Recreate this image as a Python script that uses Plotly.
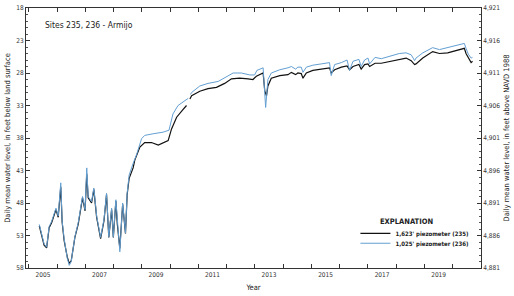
import plotly.graph_objects as go

# ---- data (decimal year, depth in feet below land surface) ----
yr_235 = [2005.37, 2005.46, 2005.54, 2005.63, 2005.72, 2005.81, 2005.96, 2006.04, 2006.13, 2006.18,
          2006.25, 2006.36, 2006.43, 2006.50, 2006.63, 2006.75, 2006.90, 2006.99, 2007.05, 2007.10,
          2007.22, 2007.30, 2007.40, 2007.54, 2007.66, 2007.75, 2007.83, 2007.93, 2007.99, 2008.08,
          2008.13, 2008.22, 2008.32, 2008.42, 2008.48, 2008.55, 2008.69, 2008.75, 2008.93, 2009.10,
          2009.34, 2009.58, 2009.75, 2009.93, 2010.05, 2010.23, 2010.46, 2010.58, None, 2010.70,
          2010.76, 2011.05, 2011.34, 2011.64, 2011.93, 2012.17, 2012.46, 2012.76, 2012.93, 2013.05,
          2013.29, 2013.35, 2013.41, 2013.46, 2013.58, 2013.88, 2014.17, 2014.29, 2014.44, 2014.52,
          2014.64, 2014.70, 2014.82, 2015.05, 2015.35, 2015.64, 2015.70, 2015.82, 2016.06, 2016.26,
          2016.35, 2016.47, 2016.68, 2016.76, 2016.88, 2017.00, 2017.06, 2017.18, 2017.25, 2017.47,
          2017.82, 2018.11, 2018.35, 2018.53, 2018.65, 2018.70, 2018.94, 2019.29, 2019.53, 2019.82,
          2020.12, 2020.31, 2020.41, 2020.47, 2020.55, 2020.65, 2020.70]
depth_235 = [51.5, 53.3, 54.5, 54.9, 51.8, 51.0, 49.0, 50.2, 45.5, 51.0,
             53.8, 56.3, 57.3, 56.9, 53.3, 51.2, 47.2, 49.2, 43.5, 47.2,
             48.0, 45.9, 50.2, 53.5, 50.7, 46.7, 53.3, 49.0, 53.3, 47.7,
             51.2, 55.0, 48.2, 52.7, 46.7, 44.2, 42.6, 41.4, 39.4, 38.7,
             38.7, 39.1, 38.7, 38.4, 36.6, 34.8, 33.6, 33.0, None, 32.0,
             31.5, 30.8, 30.4, 30.2, 29.6, 28.9, 28.8, 28.9, 29.0, 28.5,
             28.0, 30.8, 31.5, 30.0, 28.8, 28.4, 28.25, 27.9, 28.25, 28.0,
             28.1, 28.8, 28.0, 27.6, 27.4, 27.2, 28.0, 27.5, 27.1, 26.9,
             27.5, 27.0, 26.7, 27.4, 26.7, 26.6, 27.0, 26.6, 26.5, 26.5,
             26.2, 25.9, 25.7, 26.1, 26.7, 26.6, 25.7, 24.7, 25.0, 24.9,
             24.6, 24.3, 24.2, 25.0, 25.7, 26.4, 26.2]

yr_236 = [2005.37, 2005.46, 2005.54, 2005.63, 2005.72, 2005.81, 2005.96, 2006.04, 2006.13, 2006.18,
          2006.25, 2006.36, 2006.43, 2006.50, 2006.63, 2006.75, 2006.90, 2006.99, 2007.05, 2007.10,
          2007.22, 2007.30, 2007.40, 2007.54, 2007.66, 2007.75, 2007.83, 2007.93, 2007.99, 2008.08,
          2008.13, 2008.22, 2008.32, 2008.42, 2008.48, 2008.55, 2008.69, 2008.81, 2008.99, 2009.10,
          2009.40, 2009.75, 2009.96, 2010.10, 2010.28, 2010.52, 2010.64, None, 2010.72, 2010.76,
          2011.05, 2011.34, 2011.70, 2012.00, 2012.23, 2012.52, 2012.82, 2012.99, 2013.07, 2013.29,
          2013.38, 2013.46, 2013.58, 2013.64, 2013.88, 2014.17, 2014.29, 2014.44, 2014.52, 2014.64,
          2014.70, 2014.82, 2015.05, 2015.35, 2015.64, 2015.70, 2015.82, 2016.06, 2016.26, 2016.35,
          2016.47, 2016.68, 2016.76, 2016.88, 2017.00, 2017.06, 2017.18, 2017.25, 2017.47, 2017.82,
          2018.11, 2018.35, 2018.53, 2018.65, 2018.70, 2018.94, 2019.29, 2019.53, 2019.82, 2020.12,
          2020.31, 2020.41, 2020.47, 2020.55, 2020.65, 2020.70]
depth_236 = [51.3, 53.0, 54.3, 54.8, 51.6, 50.8, 48.8, 50.0, 44.9, 50.8,
             53.5, 56.5, 57.6, 57.0, 53.2, 51.0, 47.0, 49.0, 42.6, 47.0,
             47.8, 45.7, 50.0, 53.3, 50.5, 46.5, 53.2, 48.8, 53.2, 47.5,
             51.0, 55.5, 48.0, 52.6, 46.5, 43.7, 41.9, 40.6, 38.1, 37.6,
             37.35, 37.1, 36.8, 34.3, 33.0, 32.3, 31.9, None, 31.3, 31.0,
             30.0, 29.6, 29.3, 28.6, 28.0, 28.0, 28.3, 28.3, 27.6, 27.2,
             33.3, 29.0, 28.0, 27.9, 27.5, 27.2, 27.0, 27.4, 27.1, 27.1,
             27.9, 27.1, 26.8, 26.6, 26.4, 28.4, 26.7, 26.4, 26.0, 27.6,
             26.2, 25.9, 27.0, 26.0, 25.7, 26.6, 25.9, 25.6, 25.8, 25.4,
             25.0, 24.9, 25.2, 26.1, 25.7, 24.9, 24.1, 24.4, 24.1, 23.7,
             23.6, 23.45, 24.2, 25.1, 25.7, 25.6]

year_labels = ["2005", "2007", "2009", "2011", "2013", "2015", "2017", "2019"]
year_ticks = list(range(2005, 2021))
depth_ticks = [18, 23, 28, 33, 38, 43, 48, 53, 58]
elev_ticks = [4881, 4886, 4891, 4896, 4901, 4906, 4911, 4916, 4921]
land_surface_elev = 4939  # elevation = 4939 - depth

FONT = "Liberation Sans Narrow, DejaVu Sans Condensed, Arial Narrow, sans-serif"

fig = go.Figure()
fig.add_trace(go.Scatter(x=yr_235, y=depth_235, mode="lines", name="<b>1,623' piezometer (235)</b>",
                         line=dict(color="#111111", width=1.2), connectgaps=False, legend="legend"))
fig.add_trace(go.Scatter(x=yr_236, y=depth_236, mode="lines", name="<b>1,025' piezometer (236)</b>",
                         line=dict(color="#639fd2", width=1.0), connectgaps=False, legend="legend2"))
# invisible trace to activate right axis
fig.add_trace(go.Scatter(x=[yr_235[0]], y=[land_surface_elev - depth_235[0]], yaxis="y2",
                         mode="lines", showlegend=False, hoverinfo="skip", opacity=0))

axis_common = dict(showgrid=False, zeroline=False, showline=True, linecolor="#333333", linewidth=1,
                   tickfont=dict(family=FONT, size=6.5, color="#333333"))

leg_common = dict(xanchor="left", yanchor="top", bgcolor="rgba(0,0,0,0)",
                  font=dict(family=FONT, size=6, color="#222222"), itemwidth=30,
                  borderwidth=0)

fig.update_layout(
    width=514, height=296,
    margin=dict(l=26, r=32, t=4, b=28),
    paper_bgcolor="white", plot_bgcolor="white",
    font=dict(family=FONT, size=7, color="#222222"),
    xaxis=dict(range=[2004.9, 2021.0], tickmode="array",
               tickvals=[int(s) + 0.5 for s in year_labels], ticktext=year_labels,
               ticks="", mirror="ticks",
               minor=dict(tickmode="array", tickvals=year_ticks, ticks="inside", ticklen=4,
                          tickcolor="#333333", tickwidth=1),
               title=dict(text="Year", font=dict(family=FONT, size=7.5), standoff=6),
               **axis_common),
    yaxis=dict(range=[58, 18], tickmode="array", tickvals=depth_ticks,
               ticktext=[str(v) for v in depth_ticks],
               ticks="inside", ticklen=4, tickcolor="#333333",
               minor=dict(dtick=1, ticks="inside", ticklen=2, tickcolor="#555555"),
               title=dict(text="Daily mean water level, in feet below land surface",
                          font=dict(family=FONT, size=7.5), standoff=4),
               **axis_common),
    yaxis2=dict(range=[4881, 4921], overlaying="y", side="right", tickmode="array",
                tickvals=elev_ticks, ticktext=[f"{v:,}" for v in elev_ticks],
                ticks="inside", ticklen=4, tickcolor="#333333",
                minor=dict(dtick=1, ticks="inside", ticklen=2, tickcolor="#555555"),
                title=dict(text="Daily mean water level, in feet above NAVD 1988",
                           font=dict(family=FONT, size=7.5), standoff=4),
                **axis_common),
    legend=dict(x=0.724, y=0.189, **leg_common),
    legend2=dict(x=0.724, y=0.151, **leg_common),
    annotations=[dict(text="Sites 235, 236 - Armijo", xref="paper", yref="paper",
                      x=0.037, y=0.935, xanchor="left", yanchor="middle", showarrow=False,
                      font=dict(family=FONT, size=8.5, color="#222222")),
                 dict(text="<b>EXPLANATION</b>", xref="paper", yref="paper",
                      x=0.836, y=0.177, xanchor="center", yanchor="middle", showarrow=False,
                      font=dict(family=FONT, size=7.5, color="#222222"))],
)

fig.write_html("out.html")
